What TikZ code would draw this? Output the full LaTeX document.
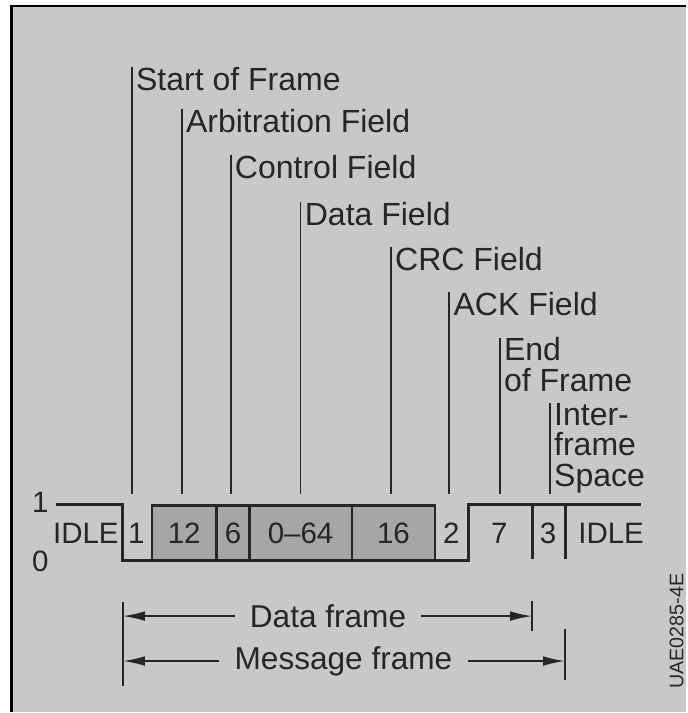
\documentclass[tikz,border=0pt]{standalone}
\usepackage{fontspec}
\setmainfont{Liberation Sans}
\usetikzlibrary{arrows.meta}

\definecolor{paper}{RGB}{200,200,200}
\definecolor{shade}{RGB}{166,166,166}
\definecolor{ink}{RGB}{38,38,38}

\begin{document}
\begin{tikzpicture}[
x=0.025cm, y=-0.025cm,
lbl/.style={
anchor=north west,
inner sep=0pt,
inner xsep=0.1cm,
align=left,
text=ink,
font=\fontsize{22.8}{21.5}\selectfont
},
leader/.style={draw=ink, line width=1.3pt},
bit/.style={text=ink, inner sep=0pt, font=\fontsize{21}{22}\selectfont},
level/.style={draw=ink, line width=2pt},
field/.style={draw=ink, line width=1.8pt, fill=shade},
frm/.style={
text=ink,
inner sep=0pt,
inner xsep=0.375cm,
font=\fontsize{22.5}{24}\selectfont
},
dim/.style={draw=ink, line width=1.3pt, -{Latex[length=0.55cm,width=0.24cm]}}
]

% page and photo border
\fill[white] (0,0) rectangle (687,713);
\fill[paper] (11.5,6) rectangle (687,713);
\draw[line width=1.5pt] (11.5,713) -- (11.5,6) -- (687,6);

\coordinate (bus) at (0,495);

% field names with leaders
\node[lbl] (sof) at (132,67)
{Start of Frame};

\node[lbl] (arb) at (182,109)
{Arbitration Field};

\node[lbl] (ctl) at (231,155)
{Control Field};

\node[lbl] (dat) at (301,202)
{Data Field};

\node[lbl] (crc) at (391.5,247)
{CRC Field};

\node[lbl] (ack) at (450,292)
{ACK Field};

\node[lbl] (eof) at (500.5,338)
{End\\of Frame};

\node[lbl] (ifs) at (550.7,404)
{Inter-\\frame\\Space};

\draw[leader] (sof.north west) -- (sof.north west |- bus);
\draw[leader] (arb.north west) -- (arb.north west |- bus);
\draw[leader] (ctl.north west) -- (ctl.north west |- bus);
\draw[leader] (dat.north west) -- (dat.north west |- bus);
\draw[leader] (crc.north west) -- (crc.north west |- bus);
\draw[leader] (ack.north west) -- (ack.north west |- bus);
\draw[leader] (eof.north west) -- (eof.north west |- bus);
\draw[leader] (ifs.north west) -- (ifs.north west |- bus);

% bus levels
\node[bit] (hi) at (40.5,503) {1};
\node[bit] (lo) at (40.5,562) {0};

% shaded fields
\draw[field] (152,506) rectangle (217,561);
\draw[field] (217,506) rectangle (250,561);
\draw[field] (250,506) rectangle (352.5,561);
\draw[field] (352.5,506) rectangle (435.5,561);

% signal
\draw[level] (56,505) -- (123,505) -- (123,561) -- (469,561) -- (469,505) -- (642,505);
\draw[level] (533,505) -- (533,560);
\draw[level] (566,505) -- (566,560);

\node[bit] (idleA) at (86,534) {IDLE};
\node[bit] (n1) at (136.5,534) {1};
\node[bit] (n12) at (184.5,534) {12};
\node[bit] (n6) at (233.5,534) {6};
\node[bit] (n64) at (301,534) {0–64};
\node[bit] (n16) at (394,534) {16};
\node[bit] (n2) at (452,534) {2};
\node[bit] (n7) at (500,534) {7};
\node[bit] (n3) at (549,534) {3};
\node[bit] (idleB) at (612,534) {IDLE};

% frame lengths
\node[frm] (df) at (328.5,617) {Data frame};
\node[frm] (mf) at (344,662) {Message frame};

\coordinate (dfL) at (123,617);
\coordinate (dfR) at (533,617);
\coordinate (mfL) at (123,662);
\coordinate (mfR) at (566,662);

\draw[leader] (123,603) -- (123,687);
\draw[leader] (533,602) -- (533,632);
\draw[leader] (566,630) -- (566,681);

\draw[dim] (df) -- (dfL);
\draw[dim] (df) -- (dfR);
\draw[dim] (mf) -- (mfL);
\draw[dim] (mf) -- (mfR);

\node[rotate=90, text=ink, inner sep=0pt, font=\fontsize{14}{16}\selectfont] (code) at (677.5,632) {UAE0285-4E};

\end{tikzpicture}
\end{document}
